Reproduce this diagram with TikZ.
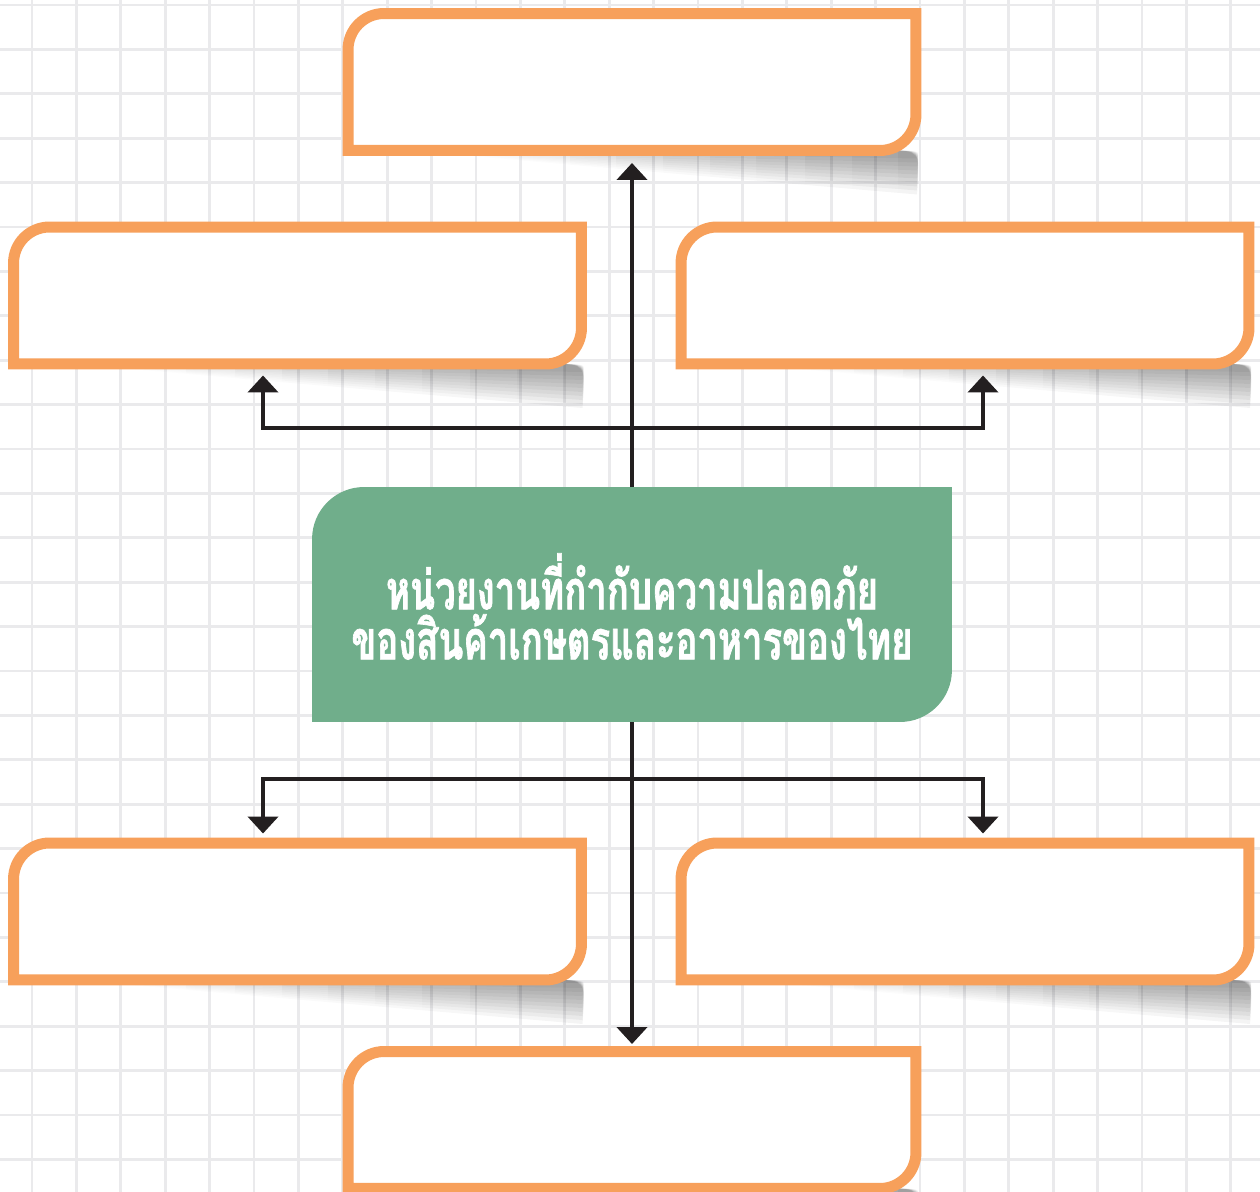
\documentclass[tikz,border=0pt]{standalone}
\usepackage{fontspec}
\newfontfamily\thaifont[Script=Thai, FakeStretch=0.67, BoldFeatures={FakeBold=1.2}]{Loma}
\usetikzlibrary{arrows.meta,positioning,calc,fadings}

\definecolor{cardorange}{HTML}{F7A05B}
\definecolor{hubgreen}{HTML}{70AE8B}
\definecolor{linkdark}{HTML}{231F20}
\definecolor{gridgray}{HTML}{EAEAEC}

\tikzfading[name=shadowfade, left color=transparent!100, middle color=transparent!30, right color=transparent!0]

\tikzset{
  card/.style={minimum width=11.36cm, minimum height=2.74cm, inner sep=0pt, outer sep=0pt},
  hubbox/.style={minimum width=12.8cm, minimum height=4.7cm, inner sep=0pt, outer sep=0pt},
  cardline/.style={draw=cardorange, line width=0.22cm, fill=white},
  shadowfill/.style={fill=black, fill opacity=0.045, path fading=shadowfade},
  gridline/.style={draw=gridgray, line width=0.055cm},
  link/.style={draw=linkdark, line width=0.09cm, -{Triangle[width=0.6cm,length=0.34cm]}},
}

% outline with two rounded corners (top left, bottom right)
\newcommand{\tabpath}[2]{(#1.south west) -- ($(#1.north west)+(0,#2)$)
  arc[start angle=180, end angle=270, radius=#2] -- (#1.north east)
  -- ($(#1.south east)-(0,#2)$) arc[start angle=0, end angle=90, radius=#2] -- cycle}
% soft shadow, several thin layers
\newcommand{\tabshadow}[1]{\foreach \d in {8,12,...,44}
  \fill[shadowfill] ($(#1.south west)!0.1!(#1.south east)$)
  -- ($(#1.south east)+(-30,0)$) .. controls ($(#1.south east)+(4,0)$) .. ($(#1.south east)+(1,\d)$) -- cycle;}

\begin{document}
\begin{tikzpicture}[x=0.02cm, y=-0.02cm]
  \useasboundingbox (0,0) rectangle (1260,1192);
  \fill[white] (0,0) rectangle (1260,1192);
  % grid paper
  \foreach \k in {0,...,27}
    \draw[gridline] ({32+44.4*\k},0) -- ({32+44.4*\k},1192);
  \foreach \k in {0,...,26}
    \draw[gridline] (0,{5+44.4*\k}) -- (1260,{5+44.4*\k});

  % cards
  \node[card] (top) at (632,82) {};
  \node[card] (ul) at (297.5,295.5) {};
  \node[card] (ur) at (965,295.5) {};
  \node[card] (ll) at (297.5,911.5) {};
  \node[card] (lr) at (965,911.5) {};
  \node[card] (bottom) at (632,1120) {};
  \foreach \n in {top,ul,ur,ll,lr,bottom} {
    \tabshadow{\n}
    \draw[cardline] \tabpath{\n}{36};
  }

  % centre
  \node[hubbox] (hub) at (632,604.5) {};
  \fill[hubgreen] \tabpath{hub}{52};
  \node[font=\thaifont\bfseries\fontsize{31}{28.5}\selectfont, text=white, align=center]
    (hubtext) at ($(hub.center)+(0,2)$)
    {หน่วยงานที่กำกับความปลอดภัย\\ของสินค้าเกษตรและอาหารของไทย};

  % connectors
  \coordinate (upjoin) at (632,428);
  \coordinate (downjoin) at (632,779);
  \draw[link, shorten >=0.25cm] (hub.north) -- (top.south);
  \draw[link, shorten >=0.23cm] (upjoin) -| ($(ul.south)+(-34.5,0)$);
  \draw[link, shorten >=0.23cm] (upjoin) -| ($(ur.south)+(18,0)$);
  \draw[link, shorten >=0.15cm] (hub.south) -- (bottom.north);
  \draw[link, shorten >=0.19cm] (downjoin) -| ($(ll.north)+(-34.5,0)$);
  \draw[link, shorten >=0.19cm] (downjoin) -| ($(lr.north)+(18,0)$);
\end{tikzpicture}
\end{document}
